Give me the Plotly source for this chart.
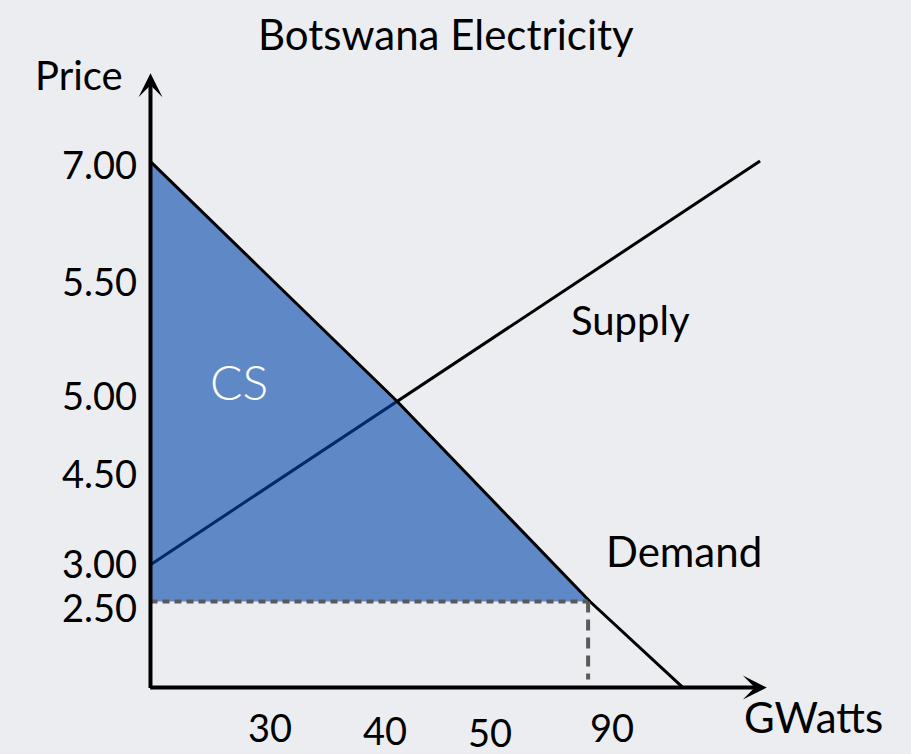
import plotly.graph_objects as go

# ---- data (schematic diagram units) ----
title_text = "Botswana Electricity"
price_labels = ["7.00", "5.50", "5.00", "4.50", "3.00", "2.50"]
price_pos = [85.0, 65.9, 47.3, 34.6, 20.0, 12.8]
qty_labels = ["30", "40", "50", "90"]
qty_pos = [19.4, 38.1, 55.1, 74.9]

demand_q = [0.0, 40.0, 71.3, 86.4]
demand_p = [85.6, 46.6, 14.0, 0.0]
supply_q = [0.0, 40.0, 98.9]
supply_p = [20.0, 46.6, 85.7]

cs_q = [0.0, 40.0, 71.3, 0.0]
cs_p = [85.6, 46.6, 14.0, 14.0]

dash_h_q = [0.0, 71.0]
dash_h_p = [14.0, 14.0]
dash_v_q = [71.0, 71.0]
dash_v_p = [14.0, 1.3]

FONT = "Lato, 'Noto Sans', sans-serif"
BG = "#ECEDF1"
W, H = 911, 754
L, R, T, B = 131.5, 138, 67, 47.5

fig = go.Figure()

fig.add_trace(go.Scatter(x=supply_q, y=supply_p, mode="lines",
                         line=dict(color="black", width=3), hoverinfo="skip"))
fig.add_trace(go.Scatter(x=cs_q, y=cs_p, mode="lines", fill="toself",
                         fillcolor="rgba(2,69,172,0.6)", line=dict(width=0),
                         hoverinfo="skip"))
fig.add_trace(go.Scatter(x=demand_q, y=demand_p, mode="lines",
                         line=dict(color="black", width=3), hoverinfo="skip"))
fig.add_trace(go.Scatter(x=dash_h_q, y=dash_h_p, mode="lines",
                         line=dict(color="#5a5a5a", width=4, dash="7px,5px"),
                         hoverinfo="skip"))
fig.add_trace(go.Scatter(x=dash_v_q, y=dash_v_p, mode="lines",
                         line=dict(color="#5a5a5a", width=4, dash="11px,7px"),
                         hoverinfo="skip"))

# axes with arrows
fig.add_annotation(x=100, y=0, ax=-0.3, ay=0, xref="x", yref="y", axref="x", ayref="y",
                   text="", showarrow=True, arrowhead=3, arrowsize=1, arrowwidth=4,
                   arrowcolor="black", standoff=0)
fig.add_annotation(x=0, y=100, ax=0, ay=-0.3, xref="x", yref="y", axref="x", ayref="y",
                   text="", showarrow=True, arrowhead=3, arrowsize=1, arrowwidth=4,
                   arrowcolor="black", standoff=0)

pw, ph = W - L - R, H - T - B
def to_paper(xp, yp):
    return (xp - L) / pw, (H - B - yp) / ph

for s, (xp, yp), kw in [
    (title_text, (446, 34), {"size": 42}),
    ("Price", (78, 75), {}),
    ("Supply", (630, 320), {}),
    ("Demand", (684, 551), {"size": 42}),
    ("CS", (239, 382), {"color": "white", "weight": 300, "size": 48}),
    ("GWatts", (814, 718), {"size": 42}),
]:
    xx, yy = to_paper(xp, yp)
    fig.add_annotation(x=xx, y=yy, xref="paper", yref="paper", text=s, showarrow=False,
                       xanchor="center", yanchor="middle",
                       font=dict(family=FONT, size=kw.get("size", 40),
                                 color=kw.get("color", "black"),
                                 weight=kw.get("weight", 400)))

# quantity tick labels (placed at their axis positions, slightly staggered as in the original)
qty_label_py = [728, 731, 733, 728]
for lab, q, yp in zip(qty_labels, qty_pos, qty_label_py):
    _, yy = to_paper(0, yp)
    fig.add_annotation(x=q, y=yy, xref="x", yref="paper", text=lab, showarrow=False,
                       xanchor="center", yanchor="middle",
                       font=dict(family=FONT, size=38, color="black"))

fig.update_layout(
    width=W, height=H,
    margin=dict(l=L, r=R, t=T, b=B, autoexpand=False),
    paper_bgcolor=BG, plot_bgcolor=BG,
    showlegend=False,
    font=dict(family=FONT, size=40, color="black"),
    xaxis=dict(range=[-3, 101], showgrid=False, zeroline=False, showline=False,
               automargin=False, showticklabels=False, ticks=""),
    yaxis=dict(range=[-3, 101], showgrid=False, zeroline=False, showline=False,
               automargin=False,
               tickmode="array", tickvals=price_pos, ticktext=price_labels, ticks="",
               ticklabelstandoff=-6, tickfont=dict(family=FONT, size=38)),
)

fig.write_html(
    "out.html",
    config={"displayModeBar": False},
    post_script="document.body.style.margin='0';document.body.style.background='%s';" % BG,
)
